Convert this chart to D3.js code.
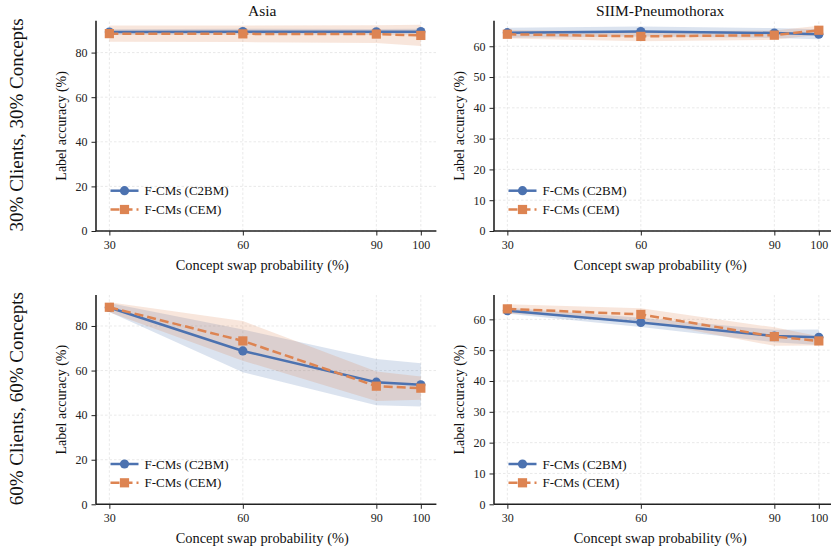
<!DOCTYPE html>
<html>
<head>
<meta charset="utf-8">
<script src="https://cdn.jsdelivr.net/npm/d3@7"></script>
<style>
  html, body { margin: 0; padding: 0; background: #fff; }
  svg { display: block; }
</style>
</head>
<body>
<svg id="chart" width="831" height="550"></svg>
<script>
// Concept swap probabilities (%) on the x axis
const swapProb = [30, 60, 90, 100];
const xTickValues = [30, 60, 90, 100];

// y ticks per dataset
const asiaTicks = [0, 20, 40, 60, 80];
const siimTicks = [0, 10, 20, 30, 40, 50, 60];

// Series names
const seriesNames = ["F-CMs (C2BM)", "F-CMs (CEM)"];

// Row / column labels
const rowLabels = ["30% Clients, 30% Concepts", "60% Clients, 60% Concepts"];
const colTitles = ["Asia", "SIIM-Pneumothorax"];

// Label accuracy (%) : mean and std, 30% clients / 30% concepts
const asiaLowC2bmMean = [89.2, 89.4, 89.3, 89.4];
const asiaLowC2bmStd  = [1.3, 1.3, 1.3, 1.3];
const asiaLowCemMean  = [88.5, 88.4, 88.3, 87.7];
const asiaLowCemStd   = [3.6, 3.7, 4.0, 4.8];

const siimLowC2bmMean = [64.4, 64.8, 64.3, 63.9];
const siimLowC2bmStd  = [1.6, 1.6, 1.6, 1.6];
const siimLowCemMean  = [63.9, 63.2, 63.6, 65.2];
const siimLowCemStd   = [1.4, 1.6, 1.5, 1.5];

// Label accuracy (%) : mean and std, 60% clients / 60% concepts
const asiaHighC2bmMean = [88.3, 68.8, 54.8, 53.6];
const asiaHighC2bmStd  = [2.0, 9.6, 10.4, 9.7];
const asiaHighCemMean  = [88.4, 73.3, 53.0, 52.1];
const asiaHighCemStd   = [2.2, 8.9, 6.6, 5.2];

const siimHighC2bmMean = [62.8, 59.0, 54.6, 54.2];
const siimHighC2bmStd  = [1.0, 1.5, 2.0, 2.5];
const siimHighCemMean  = [63.4, 61.6, 54.4, 53.0];
const siimHighCemStd   = [1.5, 2.0, 3.0, 1.5];

const colors = ["#4c72b0", "#dd8452"];
const serif = "'Liberation Serif', 'DejaVu Serif', 'Times New Roman', serif";

const panels = [
  { row: 0, col: 0, yMax: 94.3, ticks: asiaTicks,
    series: [[asiaLowC2bmMean, asiaLowC2bmStd], [asiaLowCemMean, asiaLowCemStd]] },
  { row: 0, col: 1, yMax: 68.3, ticks: siimTicks,
    series: [[siimLowC2bmMean, siimLowC2bmStd], [siimLowCemMean, siimLowCemStd]] },
  { row: 1, col: 0, yMax: 93.9, ticks: asiaTicks,
    series: [[asiaHighC2bmMean, asiaHighC2bmStd], [asiaHighCemMean, asiaHighCemStd]] },
  { row: 1, col: 1, yMax: 67.9, ticks: siimTicks,
    series: [[siimHighC2bmMean, siimHighC2bmStd], [siimHighCemMean, siimHighCemStd]] }
];

// Panel geometry
const colLeft = [96, 494];
const panelWidth = 340.4;
const rowBottom = [231, 504.3];
const rowTop = [20.7, 295];

const svg = d3.select("#chart");

function label(sel, size) {
  return sel.style("font-family", serif).style("font-size", size).attr("fill", "#111");
}

panels.forEach(p => {
  const x0 = colLeft[p.col], x1 = x0 + panelWidth;
  const yb = rowBottom[p.row], yt = rowTop[p.row];
  const x = d3.scaleLinear().domain([27, 103.5]).range([x0, x1]);
  const y = d3.scaleLinear().domain([0, p.yMax]).range([yb, yt]);
  const g = svg.append("g");

  // grid
  g.append("g").selectAll("line").data(p.ticks).join("line")
    .attr("x1", x0).attr("x2", x1)
    .attr("y1", d => y(d)).attr("y2", d => y(d))
    .attr("stroke", "#e3e3e3").attr("stroke-width", 0.8).attr("stroke-dasharray", "2.5,2");
  g.append("g").selectAll("line").data(xTickValues).join("line")
    .attr("x1", d => x(d)).attr("x2", d => x(d))
    .attr("y1", yb).attr("y2", yt)
    .attr("stroke", "#e3e3e3").attr("stroke-width", 0.8).attr("stroke-dasharray", "2.5,2");

  // std bands
  p.series.forEach(([m, s], i) => {
    const area = d3.area()
      .x((d, j) => x(swapProb[j]))
      .y0((d, j) => y(m[j] - s[j]))
      .y1((d, j) => y(m[j] + s[j]));
    g.append("path").datum(m).attr("d", area)
      .attr("fill", colors[i]).attr("fill-opacity", 0.2).attr("stroke", "none");
  });

  // lines and markers
  p.series.forEach(([m], i) => {
    const line = d3.line().x((d, j) => x(swapProb[j])).y(d => y(d));
    g.append("path").datum(m).attr("d", line)
      .attr("fill", "none").attr("stroke", colors[i]).attr("stroke-width", 2.5)
      .attr("stroke-dasharray", i === 1 ? "9,4" : null);
    if (i === 0) {
      g.append("g").selectAll("circle").data(m).join("circle")
        .attr("cx", (d, j) => x(swapProb[j])).attr("cy", d => y(d)).attr("r", 4.6)
        .attr("fill", colors[i]);
    } else {
      g.append("g").selectAll("rect").data(m).join("rect")
        .attr("x", (d, j) => x(swapProb[j]) - 4.6).attr("y", d => y(d) - 4.6)
        .attr("width", 9.2).attr("height", 9.2).attr("fill", colors[i]);
    }
  });

  // axes
  const xAxis = d3.axisBottom(x).tickValues(xTickValues).tickSize(4.5).tickPadding(5).tickSizeOuter(0);
  const yAxis = d3.axisLeft(y).tickValues(p.ticks).tickSize(4.5).tickPadding(4).tickSizeOuter(0);
  const gx = g.append("g").attr("transform", `translate(0,${yb})`).call(xAxis);
  const gy = g.append("g").attr("transform", `translate(${x0},0)`).call(yAxis);
  [gx, gy].forEach(a => {
    a.attr("font-family", null).attr("font-size", null);
    a.select(".domain").attr("stroke", "#222").attr("stroke-width", 1.6);
    a.selectAll(".tick line").attr("stroke", "#222").attr("stroke-width", 1);
    label(a.selectAll(".tick text"), "12px").attr("fill", "#222");
  });
  gy.select(".domain").attr("d", `M0,${yb}V${yt}`);
  gx.select(".domain").attr("d", `M${x0},0H${x1}`);

  // x label
  label(g.append("text"), "14.4px")
    .attr("x", (x0 + x1) / 2 - 4).attr("y", yb + 38.5)
    .attr("text-anchor", "middle")
    .text("Concept swap probability (%)");

  // y label
  label(g.append("text"), "14px")
    .attr("transform", `translate(${x0 - 30},${(yb + yt) / 2}) rotate(-90)`)
    .attr("text-anchor", "middle")
    .text("Label accuracy (%)");

  // title
  if (p.row === 0) {
    label(g.append("text"), "15.5px")
      .attr("x", (x0 + x1) / 2 - 4).attr("y", 15.5)
      .attr("text-anchor", "middle")
      .text(colTitles[p.col]);
  }

  // legend
  seriesNames.forEach((name, i) => {
    const ly = yb - 40.3 + i * 18.8;
    const lx0 = x0 + 14.5, lx1 = x0 + 42.5, lm = (lx0 + lx1) / 2;
    g.append("line").attr("x1", lx0).attr("x2", lx1).attr("y1", ly).attr("y2", ly)
      .attr("stroke", colors[i]).attr("stroke-width", 2.5)
      .attr("stroke-dasharray", i === 1 ? "9,4" : null);
    if (i === 0) {
      g.append("circle").attr("cx", lm).attr("cy", ly).attr("r", 4.6).attr("fill", colors[i]);
    } else {
      g.append("rect").attr("x", lm - 4.6).attr("y", ly - 4.6)
        .attr("width", 9.2).attr("height", 9.2).attr("fill", colors[i]);
    }
    label(g.append("text"), "13px")
      .attr("x", x0 + 48.5).attr("y", ly + 4.5)
      .text(name);
  });
});

// row labels
rowLabels.forEach((t, i) => {
  label(svg.append("text"), "19px")
    .attr("transform", `translate(${23},${(rowBottom[i] + rowTop[i]) / 2 - 1}) rotate(-90)`)
    .attr("text-anchor", "middle")
    .text(t);
});
</script>
</body>
</html>
